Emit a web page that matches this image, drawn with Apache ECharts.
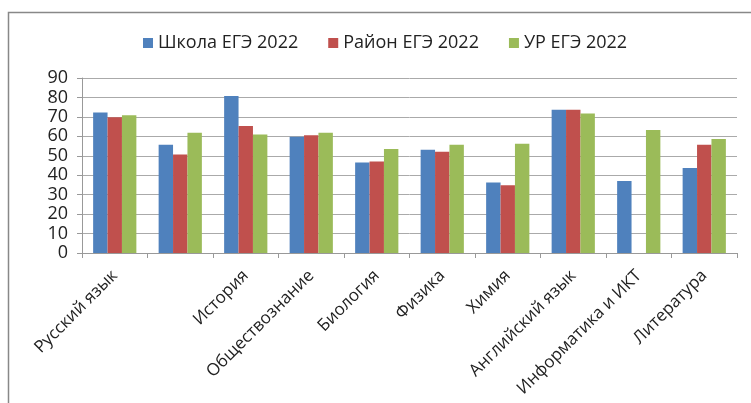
<!DOCTYPE html>
<html>
<head>
<meta charset="utf-8">
<script src="https://cdn.jsdelivr.net/npm/echarts@6/dist/echarts.min.js"></script>
<style>
    html, body { margin: 0; padding: 0; background: #fff; }
    #chart { width: 751px; height: 403px; }
</style>
</head>
<body>
<div id="chart"></div>
<script>
var subjects = ['Русский язык', '', 'История', 'Обществознание', 'Биология', 'Физика', 'Химия', 'Английский язык', 'Информатика и ИКТ', 'Литература'];
var school = [72.3, 55.7, 80.7, 59.8, 46.5, 53.1, 36.2, 73.7, 37.0, 43.7];
var district = [69.8, 50.6, 65.3, 60.5, 47.0, 52.1, 34.8, 73.7, null, 55.7];
var region = [70.8, 61.9, 60.9, 61.9, 53.5, 55.7, 56.2, 71.7, 63.3, 58.6];
var seriesNames = ['Школа ЕГЭ 2022', 'Район ЕГЭ 2022', 'УР ЕГЭ 2022'];

var chart = echarts.init(document.getElementById('chart'));
var font = '"Open Sans", "Liberation Sans", sans-serif';
var option = {
    animation: false,
    textStyle: { fontFamily: font },
    graphic: [
        {
            type: 'polyline',
            shape: { points: [[8.5, 410], [8.5, 12.5], [760, 12.5]] },
            style: { stroke: '#888', lineWidth: 1.5, fill: null }
        }
    ],
    legend: {
        data: seriesNames,
        top: 29,
        left: 138,
        itemWidth: 10,
        itemHeight: 10,
        itemGap: 30,
        icon: 'rect',
        textStyle: { fontSize: 18, color: '#222', fontFamily: font }
    },
    grid: {
        left: 82,
        right: 14,
        top: 78,
        bottom: 150
    },
    xAxis: {
        type: 'category',
        data: subjects,
        axisLine: { lineStyle: { color: '#999' } },
        axisTick: { show: true, length: 5, lineStyle: { color: '#999' } },
        axisLabel: {
            rotate: 45,
            interval: 0,
            fontSize: 17,
            color: '#222',
            margin: 20
        }
    },
    yAxis: {
        type: 'value',
        min: 0,
        max: 90,
        interval: 10,
        axisLine: { show: true, lineStyle: { color: '#999' } },
        axisTick: { show: true, length: 5, lineStyle: { color: '#999' } },
        axisLabel: { fontSize: 18, color: '#222', margin: 14 },
        splitLine: { lineStyle: { color: '#aaa' } }
    },
    series: [
        {
            name: seriesNames[0],
            type: 'bar',
            data: school,
            barGap: '0%',
            barCategoryGap: '34%',
            itemStyle: { color: '#4F81BD' }
        },
        {
            name: seriesNames[1],
            type: 'bar',
            data: district,
            barGap: '0%',
            barCategoryGap: '34%',
            itemStyle: { color: '#C0504D' }
        },
        {
            name: seriesNames[2],
            type: 'bar',
            data: region,
            barGap: '0%',
            barCategoryGap: '34%',
            itemStyle: { color: '#9BBB59' }
        }
    ]
};
chart.setOption(option);
</script>
</body>
</html>
